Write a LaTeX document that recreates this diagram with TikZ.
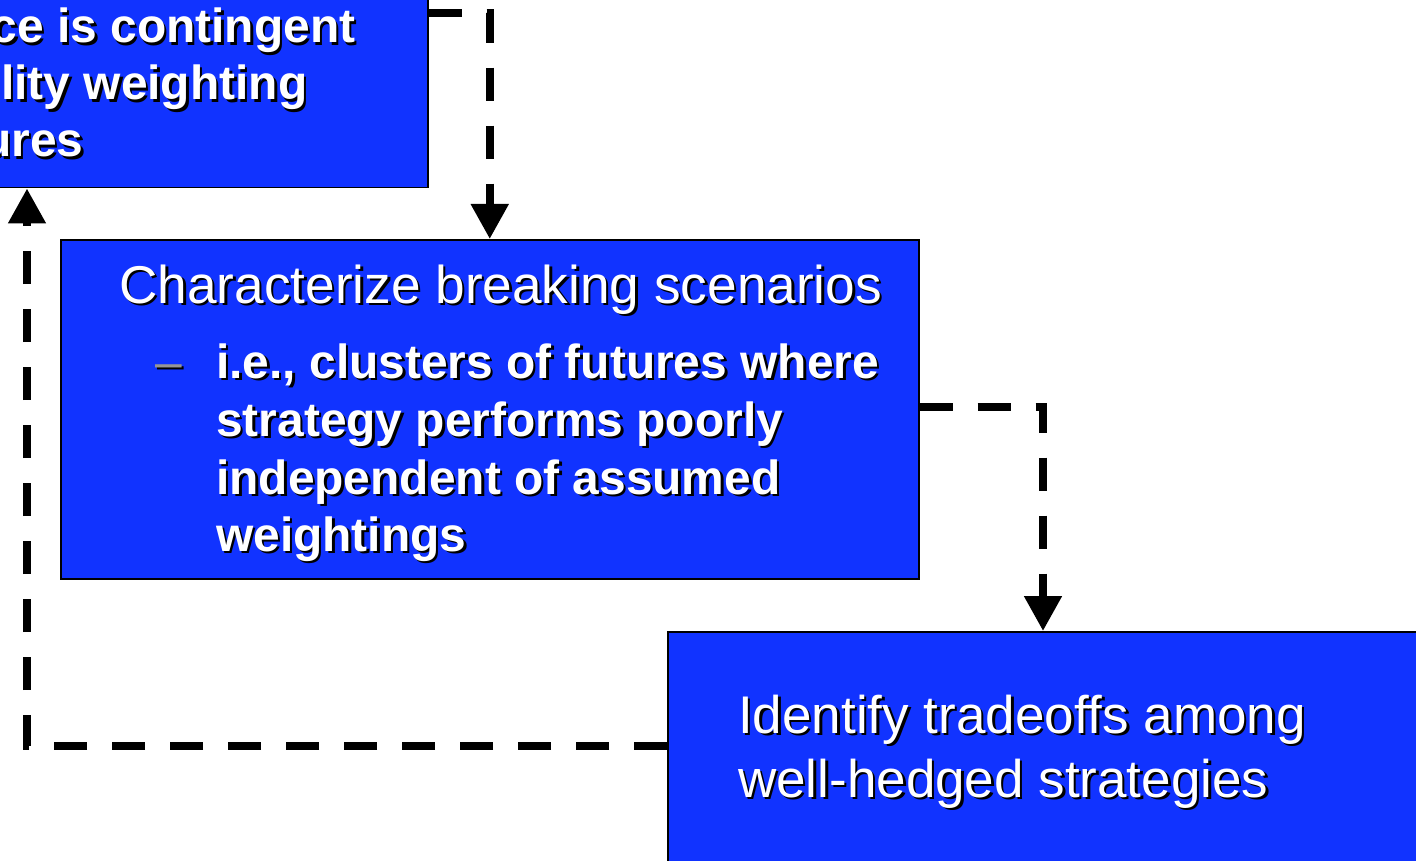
\documentclass[tikz,border=0pt]{standalone}
\usepackage{fontspec}
\setmainfont{Liberation Sans}
\usetikzlibrary{arrows.meta}
\definecolor{slideblue}{RGB}{17,51,255}
\definecolor{bulletgray}{RGB}{150,150,150}
% white slide text with a black drop shadow
\newcommand\dropshadow[1]{\leavevmode\rlap{\kern2.5pt\raisebox{-2.5pt}{\color{black}#1}}#1}

\begin{document}
\begin{tikzpicture}[x=1pt,y=-1pt,
  box/.style={draw=black,line width=1.5pt,fill=slideblue,inner sep=0pt,anchor=north west},
  txt/.style={inner sep=0pt,text=white,font=\fontsize{53.2}{60}\selectfont,anchor=base west},
  btxt/.style={txt,font=\fontsize{47.9}{57}\selectfont\bfseries},
  flow/.style={line width=8pt,dash pattern=on 33pt off 25pt,
    -{Triangle[length=35pt,width=36pt]}}]
\useasboundingbox (0,0) rectangle (1416,861);
\clip (0,0) rectangle (1416,861);

% step boxes
\node[box,minimum width=457pt,minimum height=217pt] (b1) at (-30,-30) {};
\node[box,minimum width=858pt,minimum height=339pt] (b2) at (60,239) {};
\node[box,minimum width=790pt,minimum height=270pt] (b3) at (667,631) {};

% first box text
\node[btxt,anchor=base east] (t1a) at (355.5,43) {\dropshadow{ce is contingent}};
\node[btxt,anchor=base east] (t1b) at (307.5,100) {\dropshadow{ility weighting}};
\node[btxt,anchor=base east] (t1c) at (83.5,157) {\dropshadow{ures}};

% second box text
\node[txt] (t2) at (119,303) {\dropshadow{Characterize breaking scenarios}};
\node[txt,font=\fontsize{47.9}{57}\selectfont,text=bulletgray] (d2) at (155,378) {\dropshadow{–}};
\node[btxt] (t2a) at (216,378) {\dropshadow{i.e., clusters of futures where}};
\node[btxt] (t2b) at (216,436) {\dropshadow{strategy performs poorly}};
\node[btxt] (t2c) at (216,494) {\dropshadow{independent of assumed}};
\node[btxt] (t2d) at (216,551) {\dropshadow{weightings}};

% third box text
\node[txt,font=\fontsize{53}{60}\selectfont] (t3a) at (738,733) {\dropshadow{Identify tradeoffs among}};
\node[txt,font=\fontsize{53}{60}\selectfont] (t3b) at (738,797) {\dropshadow{well-hedged strategies}};

% connector corners
\coordinate (k1) at (489,13);
\coordinate (k2) at (1043,407);
\coordinate (k3) at (27,746);

% dashed flow connectors
\draw[flow] (b1.east |- k1) -| (b2.north);
\draw[flow] (b2.east |- k2) -| (b3.north -| k2);
\draw[flow] (b3.west |- k3) -| (b1.south -| k3);
\end{tikzpicture}
\end{document}
